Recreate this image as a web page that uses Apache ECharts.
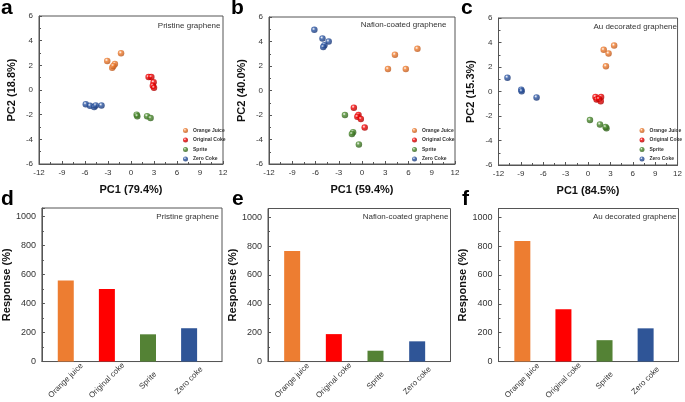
<!DOCTYPE html>
<html>
<head>
<meta charset="utf-8">
<script src="https://cdn.jsdelivr.net/npm/echarts@6/dist/echarts.min.js"></script>
<style>
  html, body { margin: 0; padding: 0; background: #fff; }
  #chart { width: 685px; height: 402px; }
</style>
</head>
<body>
<div id="chart"></div>
<script>
const FONT = 'Liberation Sans, Arial, sans-serif';

// legend names for the PCA plots
const sampleNames = ['Orange Juice', 'Original Coke', 'Sprite', 'Zero Coke'];

// a - pristine graphene PCA [PC1, PC2]
const pristineOrange = [[-3.1, 2.36], [-2.1, 2.1], [-2.45, 1.8], [-2.3, 1.95], [-1.3, 2.98]];
const pristineRed = [[2.3, 1.05], [2.65, 1.05], [2.95, 0.62], [2.85, 0.35], [3.0, 0.18]];
const pristineGreen = [[0.74, -2.0], [0.82, -2.12], [2.1, -2.12], [2.55, -2.28]];
const pristineBlue = [[-5.9, -1.15], [-5.35, -1.28], [-4.8, -1.38], [-4.6, -1.25], [-3.85, -1.25]];

// b - nafion-coated graphene PCA
const nafionOrange = [[4.25, 2.92], [7.15, 3.4], [3.35, 1.75], [5.65, 1.75]];
const nafionRed = [[-1.05, -1.4], [-0.45, -2.0], [-0.6, -2.15], [-0.15, -2.32], [0.35, -3.03]];
const nafionGreen = [[-2.2, -2.0], [-1.15, -3.4], [-1.3, -3.55], [-0.4, -4.4]];
const nafionBlue = [[-6.15, 4.95], [-5.1, 4.25], [-4.3, 4.0], [-4.85, 3.7], [-5.0, 3.55]];

// c - Au decorated graphene PCA
const auOrange = [[2.1, 3.4], [2.75, 3.1], [3.5, 3.75], [2.4, 2.06]];
const auRed = [[1.0, -0.45], [1.15, -0.65], [1.75, -0.45], [1.7, -0.8], [1.45, -0.6]];
const auGreen = [[0.26, -2.33], [1.6, -2.69], [2.47, -2.99], [2.35, -2.9]];
const auBlue = [[-10.8, 1.13], [-8.95, 0.15], [-8.9, 0.02], [-6.9, -0.48]];

// d, e, f - responses (%)
const barCategories = ['Orange juice', 'Original coke', 'Sprite', 'Zero coke'];
const pristineResponse = [560, 500, 188, 230];
const nafionResponse = [765, 190, 75, 140];
const auResponse = [835, 362, 148, 230];

const pcaTicksX = [-12, 12];
const pcaTicksY = [-6, 6];
const responseTicks = [0, 200, 400, 600, 800, 1000];

const pointColors = ['#F07D2E', '#F40000', '#4A8A2C', '#2A55A3'];
const pointDark = ['#B5531A', '#A00000', '#2C5A18', '#173370'];
const barColors = ['#ED7D31', '#FF0000', '#548235', '#2F5597'];

function ball(i) {
  return {
    type: 'radial', x: 0.38, y: 0.35, r: 0.7,
    colorStops: [
      { offset: 0, color: '#ffffff' },
      { offset: 0.35, color: pointColors[i] },
      { offset: 1, color: pointDark[i] }
    ]
  };
}

const axisLine = { onZero: false, lineStyle: { color: '#555', width: 1 } };

function pcaX(gi, name) {
  return {
    type: 'value', gridIndex: gi, min: pcaTicksX[0], max: pcaTicksX[1], interval: 3,
    name: name, nameLocation: 'middle', nameGap: 20,
    nameTextStyle: { fontSize: 11, fontWeight: 'bold', color: '#111', fontFamily: FONT },
    axisLine: axisLine,
    axisTick: { inside: true, length: 3, lineStyle: { color: '#555' } },
    minorTick: { show: true, splitNumber: 2, length: 2, lineStyle: { color: '#555' } },
    axisLabel: { fontSize: 8, color: '#333', margin: 5, fontFamily: FONT },
    splitLine: { show: false }
  };
}

function pcaY(gi, name) {
  return {
    type: 'value', gridIndex: gi, min: pcaTicksY[0], max: pcaTicksY[1], interval: 2,
    name: name, nameLocation: 'middle', nameGap: 22,
    nameTextStyle: { fontSize: 11, fontWeight: 'bold', color: '#111', fontFamily: FONT },
    axisLine: axisLine,
    axisTick: { inside: true, length: 3, lineStyle: { color: '#555' } },
    minorTick: { show: true, splitNumber: 2, length: 2, lineStyle: { color: '#555' } },
    axisLabel: { fontSize: 8, color: '#333', margin: 6, fontFamily: FONT },
    splitLine: { show: false }
  };
}

function barX(gi) {
  return {
    type: 'value', gridIndex: gi, min: 0.42, max: 4.8,
    axisLine: axisLine,
    axisTick: { show: false },
    axisLabel: {
      customValues: [1, 2, 3, 4],
      formatter: v => barCategories[Math.round(v) - 1],
      rotate: 45, align: 'center', verticalAlign: 'middle', margin: 19,
      fontSize: 8, color: '#333', fontFamily: FONT
    },
    splitLine: { show: false }
  };
}

function barY(gi) {
  return {
    type: 'value', gridIndex: gi, min: 0, max: 1060, interval: 200,
    name: 'Response (%)', nameLocation: 'middle', nameGap: 25,
    nameTextStyle: { fontSize: 11, fontWeight: 'bold', color: '#111', fontFamily: FONT },
    axisLine: axisLine,
    axisTick: { inside: true, length: 3, lineStyle: { color: '#555' } },
    minorTick: { show: true, splitNumber: 2, length: 2, lineStyle: { color: '#555' } },
    axisLabel: {
      fontSize: 9, color: '#333', margin: 6, fontFamily: FONT,
      formatter: v => (responseTicks.indexOf(v) >= 0 ? String(v) : '')
    },
    splitLine: { show: false }
  };
}

function pcaSeries(gi, groups) {
  return groups.map((data, i) => ({
    name: sampleNames[i], type: 'scatter', xAxisIndex: gi, yAxisIndex: gi,
    symbolSize: 6.5, data: data, silent: true,
    itemStyle: { color: ball(i) }
  }));
}

function barSeries(gi, values) {
  return {
    type: 'bar', name: 'resp' + gi, xAxisIndex: gi, yAxisIndex: gi, barWidth: 16,
    silent: true,
    data: values.map((v, i) => ({ value: [i + 1, v], itemStyle: { color: barColors[i] } }))
  };
}

function legendAt(left) {
  return {
    orient: 'vertical', left: left, top: 123, itemWidth: 5, itemHeight: 5, itemGap: 4.5,
    icon: 'circle', selectedMode: false, data: sampleNames,
    textStyle: { fontSize: 5, lineHeight: 5, fontWeight: 'bold', color: '#333', fontFamily: FONT }
  };
}

function label(x, y, text) {
  return {
    type: 'text', x: x, y: y,
    style: { text: text, fill: '#333', font: '8px ' + FONT, align: 'right', verticalAlign: 'middle' }
  };
}

function letter(x, y, text) {
  return {
    type: 'text', x: x, y: y,
    style: { text: text, fill: '#000', font: 'bold 21px ' + FONT, align: 'left', verticalAlign: 'middle' }
  };
}

const chart = echarts.init(document.getElementById('chart'), null, { renderer: 'canvas' });

const gridBox = { show: true, borderColor: '#555', borderWidth: 1, containLabel: false };

const option = {
  animation: false,
  backgroundColor: '#fff',
  grid: [
    Object.assign({ left: 39, top: 16, width: 184, height: 148 }, gridBox),
    Object.assign({ left: 269, top: 17, width: 186, height: 147 }, gridBox),
    Object.assign({ left: 498.5, top: 18, width: 184.5, height: 147 }, gridBox),
    Object.assign({ left: 39, top: 208, width: 183, height: 154 }, gridBox),
    Object.assign({ left: 268, top: 208.5, width: 182.5, height: 154 }, gridBox),
    Object.assign({ left: 498.5, top: 208.5, width: 180, height: 154 }, gridBox)
  ],
  xAxis: [
    pcaX(0, 'PC1 (79.4%)'), pcaX(1, 'PC1 (59.4%)'), pcaX(2, 'PC1 (84.5%)'),
    barX(3), barX(4), barX(5)
  ],
  yAxis: [
    pcaY(0, 'PC2 (18.8%)'), pcaY(1, 'PC2 (40.0%)'), pcaY(2, 'PC2 (15.3%)'),
    barY(3), barY(4), barY(5)
  ],
  legend: [legendAt(178), legendAt(407), legendAt(634.5)],
  series: [].concat(
    pcaSeries(0, [pristineOrange, pristineRed, pristineGreen, pristineBlue]),
    pcaSeries(1, [nafionOrange, nafionRed, nafionGreen, nafionBlue]),
    pcaSeries(2, [auOrange, auRed, auGreen, auBlue]),
    [barSeries(3, pristineResponse), barSeries(4, nafionResponse), barSeries(5, auResponse)]
  ),
  graphic: [
    letter(1, 8, 'a'), letter(231, 8, 'b'), letter(461, 8, 'c'),
    letter(1, 199, 'd'), letter(232, 199, 'e'), letter(462, 199, 'f'),
    label(220.5, 25.7, 'Pristine graphene'),
    label(446.5, 25, 'Nafion-coated graphene'),
    label(677, 26.7, 'Au decorated graphene'),
    label(219, 217, 'Pristine graphene'),
    label(448.5, 217, 'Nafion-coated graphene'),
    label(676.5, 217, 'Au decorated graphene')
  ]
};

chart.setOption(option);
</script>
</body>
</html>
